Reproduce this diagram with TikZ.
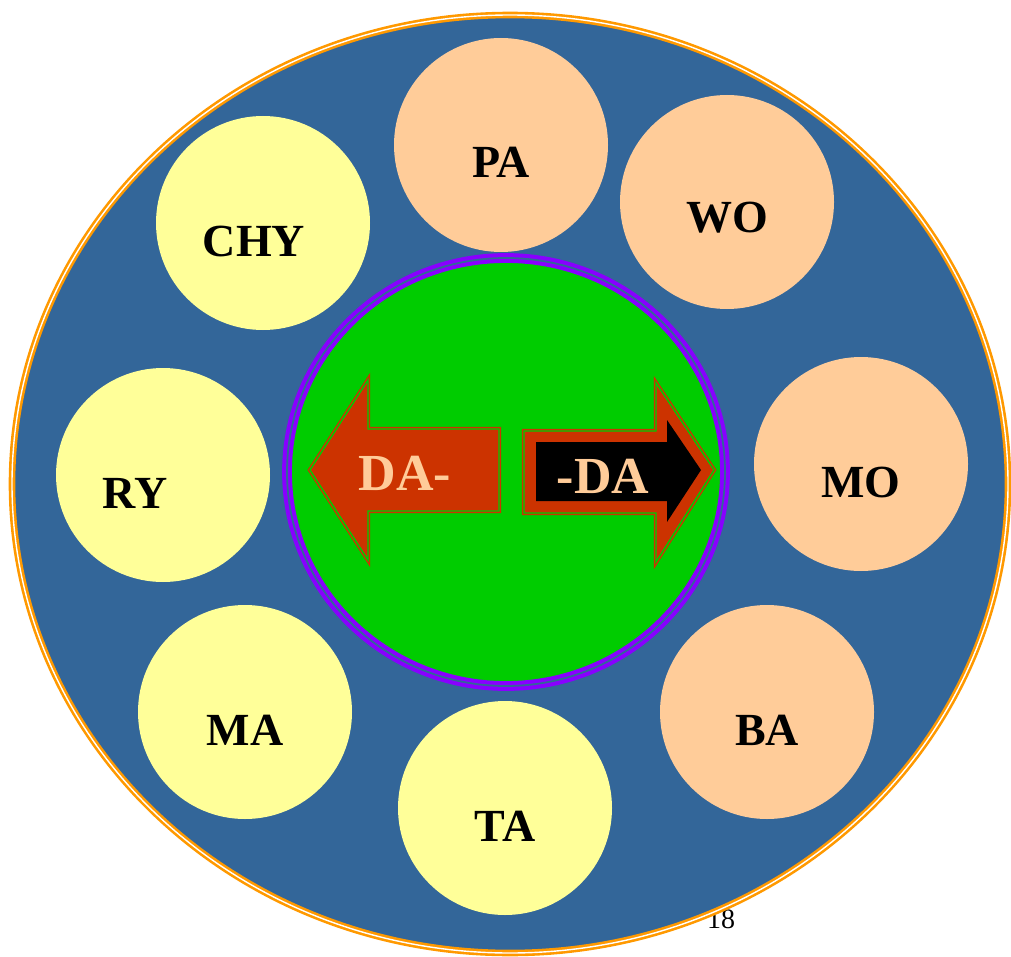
\documentclass[tikz,border=0pt]{standalone}
\usepackage{fontspec}
\setmainfont{Liberation Serif}
\usepackage{tikz}
\usetikzlibrary{positioning,calc}
\definecolor{sea}{HTML}{336699}
\definecolor{peach}{HTML}{FFCC99}
\definecolor{lemon}{HTML}{FFFF99}
\definecolor{leaf}{HTML}{00CC00}
\definecolor{rust}{HTML}{CC3300}
\definecolor{violet}{HTML}{8800FF}
\definecolor{rim}{HTML}{FF9900}

\begin{document}
\begin{tikzpicture}[x=0.5pt,y=-0.5pt]
\tikzstyle{every node}+=[inner sep=0pt]
\tikzstyle{disc}=[circle, minimum size=107pt]
\tikzstyle{tag}=[font=\fontsize{23}{25}\selectfont\bfseries, text=black]
\tikzstyle{armtag}=[font=\fontsize{26}{28}\selectfont\bfseries, text=peach]
\useasboundingbox (0,0) rectangle (1011,957);
\node [font=\fontsize{14}{16}\selectfont] (page) at (721,919) {18};
% outer ring
\draw [fill=sea, draw=rim, double=white, line width=1.3pt, double distance=0.7pt] (510,484) ellipse (498 and 469);
% centre
\draw [fill=leaf, draw=violet, double=sea, line width=2pt, double distance=0.9pt] (506,472) ellipse (219 and 214);
% outer circles
\node [disc, fill=peach] (pa) at (501,145) {};
\node [tag] (pa-t) at (501,162) {PA};
\node [disc, fill=peach] (wo) at (727,202) {};
\node [tag] (wo-t) at (727,218) {WO};
\node [disc, fill=peach] (mo) at (861,464) {};
\node [tag] (mo-t) at (861,482) {MO};
\node [disc, fill=peach] (ba) at (767,712) {};
\node [tag] (ba-t) at (767,730) {BA};
\node [disc, fill=lemon] (ta) at (505,808) {};
\node [tag] (ta-t) at (505,826) {TA};
\node [disc, fill=lemon] (ma) at (245,712) {};
\node [tag] (ma-t) at (245,730) {MA};
\node [disc, fill=lemon] (ry) at (163,475) {};
\node [tag] (ry-t) at (135,493) {RY};
\node [disc, fill=lemon] (chy) at (263,223) {};
\node [tag] (chy-t) at (254,241) {CHY};
% arrows
\draw [fill=rust, draw=rust, double=leaf, line width=0.7pt, double distance=0.7pt] (310,470) -- (368,380) -- (368,429) -- (499,429) -- (499,511) -- (368,511) -- (368,560) -- cycle;
\node [armtag] (left-t) at (405,473) {DA-};
\draw [fill=rust, draw=rust, double=leaf, line width=0.7pt, double distance=0.7pt] (524,431) -- (656,431) -- (656,383) -- (714,470) -- (656,562) -- (656,513) -- (524,513) -- cycle;
\fill [black] (536,442) -- (667,442) -- (667,420) -- (701,470) -- (667,522) -- (667,501) -- (536,501) -- cycle;
\node [armtag] (right-t) at (603,476) {-DA};
\end{tikzpicture}
\end{document}
